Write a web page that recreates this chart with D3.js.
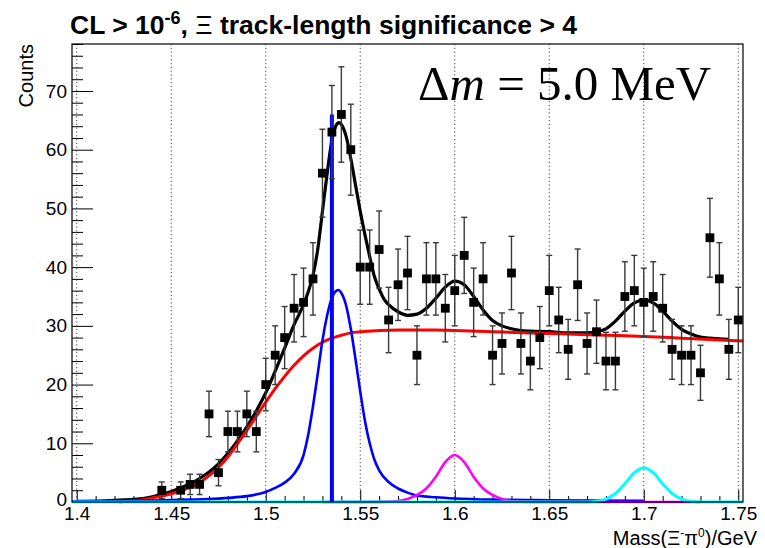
<!DOCTYPE html>
<html>
<head>
<meta charset="utf-8">
<script src="https://cdn.jsdelivr.net/npm/d3@7"></script>
<style>
  html, body { margin: 0; padding: 0; background: #fff; }
  svg { display: block; }
  text { font-family: "Liberation Sans", Arial, Helvetica, sans-serif; }
</style>
</head>
<body>
<div id="chart"></div>
<script>
// ---------------- data ----------------
const masses = [1.445,1.455,1.460,1.465,1.470,1.475,1.480,1.485,1.490,1.495,
  1.500,1.505,1.510,1.515,1.520,1.525,1.530,1.535,1.540,1.545,
  1.550,1.555,1.560,1.565,1.570,1.575,1.580,1.585,1.590,1.595,
  1.600,1.605,1.610,1.615,1.620,1.625,1.630,1.635,1.640,1.645,
  1.650,1.655,1.660,1.665,1.670,1.675,1.680,1.685,1.690,1.695,
  1.700,1.705,1.710,1.715,1.720,1.725,1.730,1.735,1.740,1.745,1.750];
const counts = [2,2,3,3,15,5,12,12,15,12,
  20,25,28,33,34,38,56,63,66,60,
  40,40,43,31,37,39,25,38,38,33,
  36,42,34,38,25,27,39,27,24,28,
  36,31,26,37,27,29,24,24,35,36,
  34,35,33,26,25,25,22,45,38,26,31];

// total fit (black)
const totalX = [1.400,1.415,1.425,1.430,1.435,1.440,1.445,1.450,1.455,1.460,1.465,1.470,1.475,1.480,1.485,1.490,1.495,
  1.500,1.505,1.510,1.515,1.520,1.5225,1.525,1.5275,1.530,1.5325,1.535,1.5375,1.5385,1.540,1.5425,1.545,1.5475,
  1.550,1.5525,1.555,1.5575,1.560,1.5625,1.565,1.570,1.575,1.580,1.585,1.590,1.595,1.600,1.605,1.610,1.615,
  1.620,1.625,1.630,1.635,1.640,1.650,1.660,1.665,1.670,1.675,1.680,1.685,1.690,1.695,1.700,1.705,1.710,1.715,
  1.720,1.725,1.730,1.735,1.740,1.745];
const totalY = [0.1,0.2,0.35,0.45,0.6,0.9,1.3,1.8,2.4,3.1,4.0,5.1,6.5,8.3,10.4,12.8,15.5,
  18.6,22.3,26.2,30.2,33.6,35.8,38.6,43.0,49.5,56.0,61.6,64.3,64.6,64.3,62.3,58.5,54.0,
  49.5,45.5,41.8,38.4,36.3,34.6,33.6,32.4,31.8,32.0,33.0,34.7,36.6,37.6,37.0,35.0,32.7,
  30.9,30.0,29.5,29.2,29.1,29.0,28.8,28.8,28.8,29.0,29.5,30.8,32.5,33.9,34.4,33.9,32.5,30.8,
  29.4,28.6,28.1,27.9,27.8,27.7];

// background (red)
const bkgX = [1.4225,1.430,1.435,1.440,1.445,1.450,1.455,1.460,1.465,1.470,1.475,1.480,1.485,1.490,1.495,
  1.500,1.505,1.510,1.515,1.520,1.525,1.530,1.535,1.540,1.545,1.550,1.560,1.570,1.580,1.590,1.600,
  1.620,1.640,1.660,1.680,1.700,1.720,1.740,1.7525];
const bkgY = [0,0.2,0.4,0.7,1.0,1.4,1.9,2.5,3.3,4.5,5.9,7.7,9.9,12.2,14.6,
  17.0,19.3,21.4,23.3,24.9,26.2,27.2,27.9,28.4,28.8,29.0,29.2,29.3,29.3,29.3,29.2,
  29.0,28.8,28.6,28.4,28.2,27.9,27.6,27.4];

// first signal (blue)
const sig1X = [1.3975,1.420,1.440,1.460,1.470,1.480,1.490,1.500,1.505,1.510,1.515,1.520,1.5225,1.525,1.5275,
  1.530,1.5325,1.535,1.5375,1.5385,1.540,1.5425,1.545,1.5475,1.550,1.5525,1.555,1.5575,1.560,1.565,
  1.570,1.575,1.580,1.590,1.600,1.620,1.650,1.700];
const sig1Y = [0.1,0.15,0.25,0.4,0.5,0.7,1.0,1.7,2.4,3.3,4.8,8.0,11.5,16.3,21.8,
  27.5,31.8,34.8,36.0,36.1,35.6,33.5,29.5,24.3,18.8,13.8,10.0,7.2,5.4,3.4,
  2.3,1.6,1.1,0.8,0.6,0.4,0.3,0.2];

// second signal (magenta)
const sig2X = [1.530,1.560,1.570,1.575,1.580,1.585,1.590,1.595,1.600,1.605,1.610,1.615,1.620,1.625,1.630,1.640,1.650,1.730];
const sig2Y = [0,0.02,0.15,0.5,1.2,2.3,4.3,6.8,8.0,6.8,4.3,2.3,1.2,0.5,0.15,0.02,0,0];

// third signal (cyan)
const sig3X = [1.3975,1.660,1.670,1.675,1.680,1.685,1.690,1.695,1.700,1.705,1.710,1.715,1.720,1.725,1.730,1.740,1.7525];
const sig3Y = [0,0,0.02,0.12,0.5,1.45,3.1,5.0,5.8,5.0,3.1,1.45,0.5,0.12,0.02,0,0];

// nominal mass marker (blue vertical line)
const markMass = 1.535;
const markHeight = 66;

const xMajor = [1.40,1.45,1.50,1.55,1.60,1.65,1.70,1.75];
const xMajorLabels = ["1.4","1.45","1.5","1.55","1.6","1.65","1.7","1.75"];
const yMajor = [0,10,20,30,40,50,60,70];

// ---------------- drawing ----------------
const W = 765, H = 548;
const L = 72, R = 743, T = 44, B = 502;

const svg = d3.select("#chart").append("svg").attr("width", W).attr("height", H);

const x = d3.scaleLinear().domain([1.3975, 1.7525]).range([L, R]);
const y = d3.scaleLinear().domain([0, 78]).range([B, T]);

// vertical dotted grid
svg.append("g").selectAll("line").data(xMajor).join("line")
  .attr("x1", d => x(d)).attr("x2", d => x(d))
  .attr("y1", T).attr("y2", B)
  .attr("stroke", "#444").attr("stroke-width", 1)
  .attr("stroke-dasharray", "1.2,2.6");

// axes
const xMinor = d3.range(140, 176).map(v => v / 100).filter(v => Math.round(v * 100) % 5 !== 0);
const yMinor = d3.range(0, 79, 2).filter(v => v % 10 !== 0);

const gx = svg.append("g").attr("transform", `translate(0,${B})`);
gx.call(d3.axisBottom(x).tickValues(xMajor).tickSize(-12).tickPadding(5)
  .tickFormat((d, i) => xMajorLabels[i]));
const gxm = svg.append("g").attr("transform", `translate(0,${B})`);
gxm.call(d3.axisBottom(x).tickValues(xMinor).tickSize(-6).tickFormat(""));

const gy = svg.append("g").attr("transform", `translate(${L},0)`);
gy.call(d3.axisLeft(y).tickValues(yMajor).tickSize(-21).tickPadding(5).tickFormat(d3.format("d")));
const gym = svg.append("g").attr("transform", `translate(${L},0)`);
gym.call(d3.axisLeft(y).tickValues(yMinor).tickSize(-11).tickFormat(""));

[gx, gxm, gy, gym].forEach(g => {
  g.select(".domain").remove();
  g.selectAll(".tick line").attr("stroke", "#000").attr("stroke-width", 1);
  g.selectAll(".tick text").attr("font-size", 19).attr("fill", "#000")
    .attr("font-family", "'Liberation Sans', Arial, sans-serif");
});
// keep the "0" of the y axis clear of the x-axis "1.4"
gy.selectAll(".tick text").filter(d => d === 0).attr("dy", "0.2em");

// curves
const line = (xs, ys) => d3.line().curve(d3.curveMonotoneX)
  .x((d, i) => x(xs[i])).y((d, i) => y(ys[i]))(xs);

const curves = svg.append("g").attr("fill", "none").attr("stroke-linejoin", "round");
curves.append("path").attr("d", line(totalX, totalY)).attr("stroke", "#000").attr("stroke-width", 3.2);
curves.append("path").attr("d", line(bkgX, bkgY)).attr("stroke", "#ff0000").attr("stroke-width", 3);
curves.append("path").attr("d", line(sig1X, sig1Y)).attr("stroke", "#0000ff").attr("stroke-width", 2.6);
curves.append("path").attr("d", line(sig2X, sig2Y)).attr("stroke", "#ff00ff").attr("stroke-width", 2.6);
curves.append("path").attr("d", line(sig3X, sig3Y)).attr("stroke", "#00ffff").attr("stroke-width", 3);

// nominal mass line
svg.append("line")
  .attr("x1", x(markMass)).attr("x2", x(markMass))
  .attr("y1", y(0)).attr("y2", y(markHeight))
  .attr("stroke", "#0000ff").attr("stroke-width", 4);

// data points with sqrt(N) errors
const pts = svg.append("g");
const errColor = "#3a3a3a";
masses.forEach((m, i) => {
  const n = counts[i], e = Math.sqrt(n);
  const cx = x(m);
  const g = pts.append("g");
  g.append("line").attr("x1", cx).attr("x2", cx).attr("y1", y(n - e)).attr("y2", y(n + e))
    .attr("stroke", errColor).attr("stroke-width", 1.4);
  [n - e, n + e].forEach(v => {
    g.append("line").attr("x1", cx - 3).attr("x2", cx + 3).attr("y1", y(v)).attr("y2", y(v))
      .attr("stroke", errColor).attr("stroke-width", 1.4);
  });
  g.append("rect").attr("x", cx - 4.4).attr("y", y(n) - 4.4).attr("width", 8.8).attr("height", 8.8)
    .attr("fill", "#000");
});

// frame
svg.append("rect").attr("x", L).attr("y", T).attr("width", R - L).attr("height", B - T)
  .attr("fill", "none").attr("stroke", "#000").attr("stroke-width", 1.2);

// title
const title = svg.append("text").attr("x", 70).attr("y", 34)
  .attr("font-size", 26.5).attr("font-weight", "bold").attr("fill", "#000");
title.append("tspan").text("CL > 10");
title.append("tspan").attr("dy", -10).attr("font-size", 18).text("-6");
title.append("tspan").attr("dy", 10).text(", ");
title.append("tspan").attr("font-weight", "normal").text("Ξ");
title.append("tspan").text(" track-length significance > 4");

// big annotation
const ann = svg.append("text").attr("x", 418).attr("y", 100)
  .attr("font-family", "'Liberation Serif', 'Times New Roman', serif")
  .attr("font-size", 49).attr("fill", "#000");
ann.append("tspan").attr("font-family", "'Liberation Serif', 'Times New Roman', serif").text("Δ");
ann.append("tspan").attr("font-family", "'Liberation Serif', 'Times New Roman', serif").attr("font-style", "italic").text("m");
ann.append("tspan").attr("font-family", "'Liberation Serif', 'Times New Roman', serif").text(" = 5.0 MeV");

// axis titles
const xt = svg.append("text").attr("x", 757).attr("y", 545).attr("text-anchor", "end")
  .attr("font-size", 20).attr("fill", "#000");
xt.append("tspan").text("Mass(Ξ");
xt.append("tspan").attr("dy", -8).attr("font-size", 12).text("-");
xt.append("tspan").attr("dy", 8).text("π");
xt.append("tspan").attr("dy", -8).attr("font-size", 12).text("0");
xt.append("tspan").attr("dy", 8).text(")/GeV");

svg.append("text").attr("transform", "translate(33,44) rotate(-90)")
  .attr("text-anchor", "end").attr("font-size", 20).attr("fill", "#000").text("Counts");
</script>
</body>
</html>
